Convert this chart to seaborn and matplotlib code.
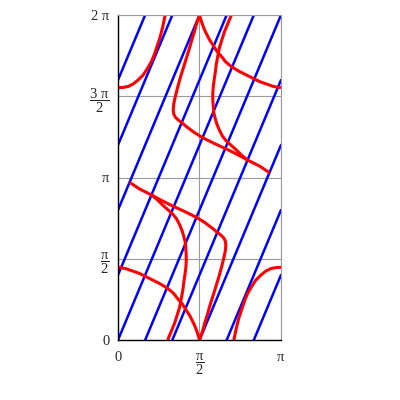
import numpy as np
import pandas as pd
import matplotlib
matplotlib.use("Agg")
import matplotlib.pyplot as plt
import seaborn as sns

PI = np.pi

# blue lines: start / end points, in units of pi
blue_x0 = [0, 0, 0, 0, 0, 1/6, 1/3, 1/2, 2/3, 5/6]
blue_y0 = [8/5, 6/5, 4/5, 2/5, 0, 0, 0, 0, 0, 0]
blue_x1 = [1/6, 1/3, 1/2, 2/3, 5/6, 1, 1, 1, 1, 1]
blue_y1 = [2, 2, 2, 2, 2, 2, 8/5, 6/5, 4/5, 2/5]

# red curves (radians)
a_x = [0.0, 0.145, 0.280, 0.416, 0.551, 0.686, 0.802, 0.899, 0.996, 1.073, 1.131, 1.189,
       1.247, 1.286, 1.324, 1.363, 1.402, 1.430, 1.459, 1.488, 1.517, 1.546, 1.571]
a_y = [1.405, 1.382, 1.334, 1.286, 1.218, 1.150, 1.092, 1.034, 0.967, 0.899, 0.822, 0.754,
       0.686, 0.619, 0.561, 0.503, 0.435, 0.377, 0.319, 0.251, 0.174, 0.087, 0.0]

b_x = [3.1416, 3.045, 2.948, 2.851, 2.755, 2.658, 2.581, 2.503, 2.445, 2.387, 2.329, 2.281, 2.233]
b_y = [1.405, 1.400, 1.382, 1.334, 1.256, 1.160, 1.044, 0.909, 0.773, 0.599, 0.425, 0.232, 0.0]

c_x = [1.571, 1.624, 1.672, 1.720, 1.769, 1.866, 1.943, 2.001, 2.039, 2.068, 2.078, 2.068,
       2.039, 1.981, 1.904, 1.827, 1.672, 1.517, 1.286, 1.054, 0.841, 0.648, 0.416, 0.222]
c_y = [0.0, 0.155, 0.329, 0.483, 0.657, 0.967, 1.218, 1.431, 1.585, 1.720, 1.836, 1.914,
       1.972, 2.030, 2.088, 2.155, 2.271, 2.368, 2.484, 2.590, 2.697, 2.803, 2.919, 3.049]

d_x = [0.648, 0.764, 0.860, 0.957, 1.054, 1.131, 1.189, 1.237, 1.266, 1.295, 1.305, 1.315,
       1.315, 1.305, 1.286, 1.266, 1.247, 1.218, 1.189, 1.141, 1.092, 1.025, 0.957]
d_y = [2.803, 2.706, 2.610, 2.523, 2.436, 2.339, 2.223, 2.107, 2.010, 1.894, 1.778, 1.643,
       1.508, 1.372, 1.237, 1.102, 0.947, 0.793, 0.638, 0.483, 0.329, 0.164, 0.0]

a2_x = [3.1416, 2.997, 2.862, 2.726, 2.591, 2.456, 2.340, 2.243, 2.146, 2.069, 2.011, 1.953,
        1.895, 1.856, 1.818, 1.779, 1.740, 1.712, 1.683, 1.654, 1.625, 1.596, 1.571]
a2_y = [4.878, 4.901, 4.949, 4.997, 5.065, 5.133, 5.191, 5.249, 5.316, 5.384, 5.461, 5.529,
        5.597, 5.664, 5.722, 5.780, 5.848, 5.906, 5.964, 6.032, 6.109, 6.196, 6.283]

b2_x = [0.0, 0.097, 0.194, 0.291, 0.387, 0.484, 0.561, 0.639, 0.697, 0.755, 0.813, 0.861, 0.909]
b2_y = [4.878, 4.883, 4.901, 4.949, 5.027, 5.123, 5.239, 5.374, 5.510, 5.684, 5.858, 6.051, 6.283]

c2_x = [1.571, 1.518, 1.470, 1.422, 1.373, 1.276, 1.199, 1.141, 1.103, 1.074, 1.064, 1.074,
        1.103, 1.161, 1.238, 1.315, 1.470, 1.625, 1.856, 2.088, 2.301, 2.494, 2.726, 2.920]
c2_y = [6.283, 6.128, 5.954, 5.800, 5.626, 5.316, 5.065, 4.852, 4.698, 4.563, 4.447, 4.369,
        4.311, 4.253, 4.195, 4.128, 4.012, 3.915, 3.799, 3.693, 3.586, 3.480, 3.364, 3.234]

d2_x = [2.494, 2.378, 2.282, 2.185, 2.088, 2.011, 1.953, 1.905, 1.876, 1.847, 1.837, 1.827,
        1.827, 1.837, 1.856, 1.876, 1.895, 1.924, 1.953, 2.001, 2.050, 2.117, 2.185]
d2_y = [3.480, 3.577, 3.673, 3.760, 3.847, 3.944, 4.060, 4.176, 4.273, 4.389, 4.505, 4.640,
        4.775, 4.911, 5.046, 5.181, 5.336, 5.490, 5.645, 5.800, 5.954, 6.119, 6.283]

# ---- build tables ----
rows = []
for i in range(len(blue_x0)):
    rows.append((i, blue_x0[i] * PI, blue_y0[i] * PI))
    rows.append((i, blue_x1[i] * PI, blue_y1[i] * PI))
blue_df = pd.DataFrame(rows, columns=["line", "x", "y"])

red_parts = {"A": (a_x, a_y), "B": (b_x, b_y), "C": (c_x, c_y), "D": (d_x, d_y),
             "A2": (a2_x, a2_y), "B2": (b2_x, b2_y), "C2": (c2_x, c2_y), "D2": (d2_x, d2_y)}
red_rows = []
for name, (xs, ys) in red_parts.items():
    for x, y in zip(xs, ys):
        red_rows.append((name, x, y))
red_df = pd.DataFrame(red_rows, columns=["curve", "x", "y"])

# ---- style ----
sns.set_style("white")
plt.rcParams["font.family"] = ["Liberation Serif", "DejaVu Serif"]
plt.rcParams["mathtext.fontset"] = "custom"
plt.rcParams["mathtext.rm"] = "Liberation Serif"
plt.rcParams["mathtext.it"] = "Liberation Serif"

fig = plt.figure(figsize=(4, 4), dpi=100)
ax = fig.add_axes([0.295, 0.15, 0.4075, 0.8125])

sns.lineplot(data=blue_df, x="x", y="y", units="line", estimator=None, sort=False,
             color="#0000ff", lw=1.8, ax=ax, legend=False)
sns.lineplot(data=red_df, x="x", y="y", units="curve", estimator=None, sort=False,
             color="#ff0000", lw=2.2, ax=ax, legend=False,
             solid_joinstyle="round", solid_capstyle="butt")

ax.set_xlim(0, PI)
ax.set_ylim(0, 2 * PI)
ax.set_xlabel("")
ax.set_ylabel("")

ax.set_xticks([0, PI / 2, PI])
ax.set_xticklabels(["0", r"$\dfrac{\pi}{2}$", "π"])
ax.set_yticks([0, PI / 2, PI, 3 * PI / 2, 2 * PI])
ax.set_yticklabels(["0", r"$\dfrac{\pi}{2}$", "π", r"$\dfrac{3\ \pi}{2}$", "2 π"])
ax.tick_params(axis="both", direction="out", length=4, width=0.8, color="black",
               labelsize=10.5, pad=4)
ax.tick_params(axis="y", pad=2)

ax.grid(True, color="#9a9a9a", lw=0.8)
ax.set_axisbelow(True)
for s in ["top", "right"]:
    ax.spines[s].set_color("#9a9a9a")
    ax.spines[s].set_linewidth(0.8)
for s in ["left", "bottom"]:
    ax.spines[s].set_color("black")
    ax.spines[s].set_linewidth(1.0)

fig.savefig("out.png", dpi=100)
